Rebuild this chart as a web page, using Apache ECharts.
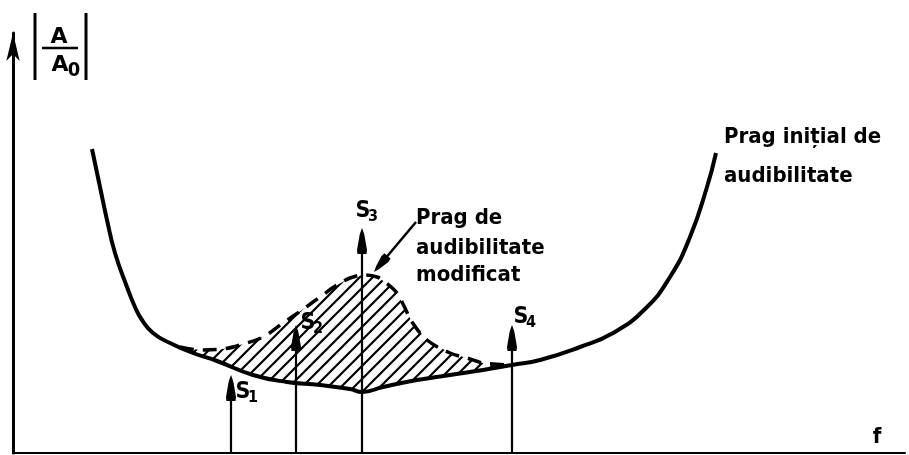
<!DOCTYPE html>
<html>
<head>
<meta charset="utf-8">
<script src="https://cdn.jsdelivr.net/npm/echarts@6/dist/echarts.min.js"></script>
<style>
html,body{margin:0;padding:0;background:#fff;}
#chart{width:909px;height:455px;}
</style>
</head>
<body>
<div id="chart"></div>
<script>
// Initial hearing threshold (solid curve)
const initialFreq  = [79, 87, 94, 102, 114, 122, 129, 140, 157, 180, 204, 240, 274, 307, 337, 349, 370, 404, 437, 470, 499, 527, 567, 600, 632, 657, 677, 694, 703];
const initialLevel = [304, 266, 233, 200, 166, 146, 133, 120, 110, 100, 92, 78, 71, 68, 64, 61, 66, 73, 78, 83, 88, 93, 106, 120, 144, 176, 216, 266, 300];
// Modified hearing threshold (dashed curve)
const modifiedFreq  = [167, 187, 210, 227, 250, 270, 289, 307, 324, 337, 350, 364, 372, 384, 391, 399, 414, 437, 454, 470, 497];
const modifiedLevel = [106, 103, 104, 108, 116, 130, 143, 156, 168, 175, 178, 176, 171, 160, 147, 131, 113, 100, 95, 90, 88];
// Signals S1..S4
const signalNames = ['1', '2', '3', '4'];
const signalFreq  = [218, 283, 349, 499];
const signalLevel = [78, 128, 225, 128];
// Pointer from the "modified threshold" label to the dashed peak
const pointerFrom = [403, 231];
const pointerTo   = [361, 181];

// layout (pixels) for signal labels relative to arrow tip
const signalLabelOffset = [[16, 17], [16, -2], [5, -17], [13, -8]];

const FONT = '"DejaVu Sans Condensed", "DejaVu Sans", sans-serif';

// hatch pattern
const hc = document.createElement('canvas');
const HS = 13;
hc.width = HS; hc.height = HS;
const hctx = hc.getContext('2d');
hctx.strokeStyle = '#000';
hctx.lineWidth = 2.2;
hctx.beginPath();
hctx.moveTo(-2, HS + 2); hctx.lineTo(HS + 2, -2);
hctx.moveTo(-2, 2); hctx.lineTo(2, -2);
hctx.moveTo(HS - 2, HS + 2); hctx.lineTo(HS + 2, HS - 2);
hctx.stroke();

const chart = echarts.init(document.getElementById('chart'), null, {renderer: 'canvas'});

function zip(a, b) { return a.map((v, i) => [v, b[i]]); }

function renderHatch(params, api) {
  const pts = [];
  for (let i = 0; i < modifiedFreq.length; i++) pts.push(api.coord([modifiedFreq[i], modifiedLevel[i]]));
  const x0 = modifiedFreq[0], x1 = modifiedFreq[modifiedFreq.length - 1];
  for (let i = initialFreq.length - 1; i >= 0; i--) {
    if (initialFreq[i] > x0 && initialFreq[i] < x1) pts.push(api.coord([initialFreq[i], initialLevel[i]]));
  }
  return {type: 'polygon', shape: {points: pts}, style: {fill: {image: hc, repeat: 'repeat'}, stroke: null}};
}

function arrowHead(tip, dx, dy, len, hw) {
  const bx = tip[0] - dx * len, by = tip[1] - dy * len;
  const px = -dy, py = dx;
  return [
    tip,
    [tip[0] - dx * 6 + px * 2.2, tip[1] - dy * 6 + py * 2.2],
    [bx + dx * 4 + px * hw, by + dy * 4 + py * hw],
    [bx + px * (hw - 0.5), by + py * (hw - 0.5)],
    [bx - px * (hw - 0.5), by - py * (hw - 0.5)],
    [bx + dx * 4 - px * hw, by + dy * 4 - py * hw],
    [tip[0] - dx * 6 - px * 2.2, tip[1] - dy * 6 - py * 2.2]
  ];
}

function renderSignal(params, api) {
  const i = params.dataIndex;
  const base = api.coord([api.value(0), 0]);
  const tip = api.coord([api.value(0), api.value(1)]);
  const off = signalLabelOffset[i];
  return {
    type: 'group',
    children: [
      {type: 'line', shape: {x1: base[0], y1: base[1], x2: tip[0], y2: tip[1] + 20}, style: {stroke: '#000', lineWidth: 2.2}},
      {type: 'polygon', shape: {points: arrowHead(tip, 0, -1, 26, 5)}, style: {fill: '#000'}},
      {type: 'text', x: tip[0] + off[0] - 4, y: tip[1] + off[1], style: {text: 'S', font: 'bold 23px ' + FONT, fill: '#000', align: 'center', verticalAlign: 'middle'}},
      {type: 'text', x: tip[0] + off[0] + 6, y: tip[1] + off[1] + 6, style: {text: signalNames[i], font: 'bold 16px ' + FONT, fill: '#000', align: 'center', verticalAlign: 'middle'}}
    ]
  };
}

function renderPointer(params, api) {
  const a = api.coord(pointerFrom);
  const b = api.coord(pointerTo);
  let dx = b[0] - a[0], dy = b[1] - a[1];
  const L = Math.sqrt(dx * dx + dy * dy); dx /= L; dy /= L;
  return {
    type: 'group',
    children: [
      {type: 'line', shape: {x1: a[0], y1: a[1], x2: b[0] - dx * 15, y2: b[1] - dy * 15}, style: {stroke: '#000', lineWidth: 2.5}},
      {type: 'polygon', shape: {points: arrowHead(b, dx, dy, 21, 4.5)}, style: {fill: '#000'}}
    ]
  };
}

const textFont = 'bold 22px ' + FONT;

const option = {
  animation: false,
  backgroundColor: '#fff',
  grid: {left: 13, right: 4, top: 33, bottom: 2, containLabel: false},
  xAxis: {
    type: 'value', min: 0, max: 892,
    axisLine: {lineStyle: {color: '#000', width: 2}},
    axisTick: {show: false}, axisLabel: {show: false}, splitLine: {show: false}
  },
  yAxis: {
    type: 'value', min: 0, max: 420,
    axisLine: {lineStyle: {color: '#000', width: 3}, symbol: ['none', 'arrow'], symbolSize: [10, 28]},
    axisTick: {show: false}, axisLabel: {show: false}, splitLine: {show: false}
  },
  series: [
    {type: 'custom', renderItem: renderHatch, data: [0], silent: true, z: 1},
    {type: 'line', data: zip(initialFreq, initialLevel), smooth: 0.5, showSymbol: false, lineStyle: {color: '#000', width: 4}, z: 3},
    {type: 'line', data: zip(modifiedFreq, modifiedLevel), smooth: 0.35, showSymbol: false, lineStyle: {color: '#000', width: 3.5, type: [14, 9]}, z: 3},
    {type: 'custom', renderItem: renderSignal, data: zip(signalFreq, signalLevel), z: 4},
    {type: 'custom', renderItem: renderPointer, data: [0], z: 4}
  ],
  graphic: [
    {type: 'line', shape: {x1: 35, y1: 13, x2: 35, y2: 80}, style: {stroke: '#000', lineWidth: 3}},
    {type: 'line', shape: {x1: 86, y1: 13, x2: 86, y2: 80}, style: {stroke: '#000', lineWidth: 3}},
    {type: 'line', shape: {x1: 42, y1: 48, x2: 78, y2: 48}, style: {stroke: '#000', lineWidth: 2.5}},
    {type: 'text', x: 59, y: 37, style: {text: 'A', font: 'bold 22px "DejaVu Sans", sans-serif', fill: '#000', align: 'center', verticalAlign: 'middle'}},
    {type: 'text', x: 60, y: 65, style: {text: 'A', font: 'bold 22px "DejaVu Sans", sans-serif', fill: '#000', align: 'center', verticalAlign: 'middle'}},
    {type: 'text', x: 74, y: 71, style: {text: '0', font: 'bold 20px ' + FONT, fill: '#000', align: 'center', verticalAlign: 'middle'}},
    {type: 'text', x: 724, y: 137, style: {text: 'Prag inițial de', font: textFont, fill: '#000', verticalAlign: 'middle'}},
    {type: 'text', x: 724, y: 176, style: {text: 'audibilitate', font: textFont, fill: '#000', verticalAlign: 'middle'}},
    {type: 'text', x: 416, y: 218, style: {text: 'Prag de', font: textFont, fill: '#000', verticalAlign: 'middle'}},
    {type: 'text', x: 416, y: 248, style: {text: 'audibilitate', font: textFont, fill: '#000', verticalAlign: 'middle'}},
    {type: 'text', x: 416, y: 275, style: {text: 'modificat', font: textFont, fill: '#000', verticalAlign: 'middle'}},
    {type: 'text', x: 877, y: 437, style: {text: 'f', font: 'bold 22px ' + FONT, fill: '#000', align: 'center', verticalAlign: 'middle'}}
  ]
};
chart.setOption(option);
</script>
</body>
</html>
